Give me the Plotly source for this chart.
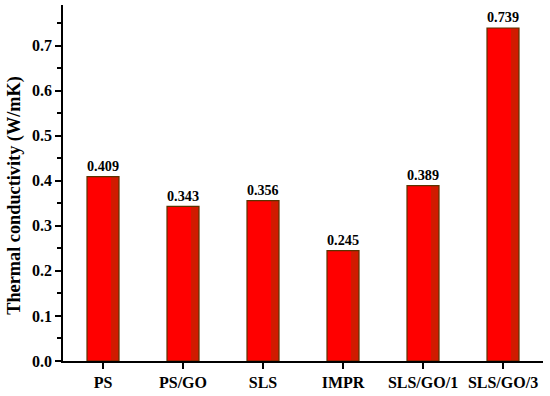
import plotly.graph_objects as go

samples = ['PS', 'PS/GO', 'SLS', 'IMPR', 'SLS/GO/1', 'SLS/GO/3']
conductivity = [0.409, 0.343, 0.356, 0.245, 0.389, 0.739]

serif = 'Liberation Serif, Times New Roman, serif'

fig = go.Figure()

# red fill of the bars
fig.add_trace(go.Bar(
    x=samples, y=conductivity,
    width=0.4, offset=-0.2,
    marker=dict(color='#ff0000', line=dict(width=0)),
    text=[f'{v:.3f}' for v in conductivity],
    textposition='outside',
    textfont=dict(family=serif, size=15, color='black', weight='bold'),
    cliponaxis=False,
    showlegend=False
))

# darker shading on the right side
fig.add_trace(go.Bar(
    x=samples, y=conductivity,
    width=0.1, offset=0.1,
    marker=dict(color='#d11a00', line=dict(width=0)),
    showlegend=False
))

# outline
fig.add_trace(go.Bar(
    x=samples, y=conductivity,
    width=0.4, offset=-0.2,
    marker=dict(color='rgba(0,0,0,0)', line=dict(color='#5b3300', width=1.2)),
    showlegend=False
))

fig.update_layout(
    barmode='overlay',
    width=550, height=396,
    margin=dict(l=63, r=7, t=5, b=33),
    plot_bgcolor='white',
    paper_bgcolor='white',
    font=dict(family=serif, color='black', size=15),
)

# y title placed as annotation (it sits a bit below the plot centre)
fig.add_annotation(
    text='Thermal conductivity (W/mK)',
    xref='paper', yref='paper', x=-0.1, y=0.464,
    xanchor='center', yanchor='middle',
    textangle=-90, showarrow=False,
    font=dict(family=serif, size=18.3, weight='bold', color='black')
)

fig.update_xaxes(
    range=[-0.5, 5.5],
    showline=True, linecolor='black', linewidth=1.5,
    ticks='outside', ticklen=6, tickwidth=1.5, tickcolor='black',
    tickfont=dict(family=serif, size=16, weight='bold'),
    minor=dict(ticks='outside', ticklen=4, tickwidth=1.5, tickcolor='black', showgrid=False),
    showgrid=False, zeroline=False
)

fig.update_yaxes(
    range=[0, 0.79],
    tickmode='linear', tick0=0, dtick=0.1, tickformat='.1f',
    showline=True, linecolor='black', linewidth=1.5,
    ticks='outside', ticklen=6, tickwidth=1.5, tickcolor='black',
    tickfont=dict(family=serif, size=16, weight='bold'),
    minor=dict(dtick=0.05, ticks='outside', ticklen=4, tickwidth=1.5, tickcolor='black', showgrid=False),
    showgrid=False, zeroline=False
)

fig.write_html('out.html', config={'displayModeBar': False},
               post_script="document.body.style.margin='0';")
